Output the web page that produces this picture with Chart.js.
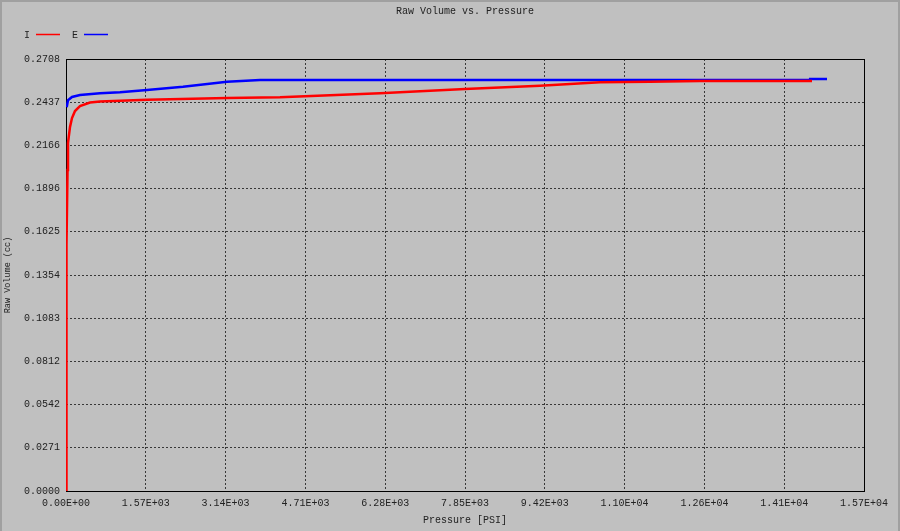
<!DOCTYPE html>
<html>
<head>
<meta charset="utf-8">
<script src="https://cdn.jsdelivr.net/npm/chart.js@4.4.1/dist/chart.umd.min.js"></script>
<style>
  html, body { margin: 0; padding: 0; background: #c0c0c0; }
  #wrap { width: 900px; height: 531px; position: relative; }
</style>
</head>
<body>
<div id="wrap"><canvas id="chart" width="900" height="531"></canvas></div>
<script>
// pressure [PSI] and raw volume [cc]
const pressureI = [0, 5, 14, 30, 39, 79, 118, 177, 275, 472, 669, 1062, 1594, 3168, 4210, 6178, 7850, 9325, 10506, 11490, 12473, 14677];
const volumeI   = [0, 0.0800, 0.1542, 0.2012, 0.2181, 0.2282, 0.2338, 0.2382, 0.2413, 0.2435, 0.2442, 0.2446, 0.2452, 0.2464, 0.2469, 0.2493, 0.2520, 0.2541, 0.2562, 0.2566, 0.2570, 0.2570];

const pressureE = [14, 39, 118, 275, 669, 1062, 1594, 2302, 3168, 3817, 4604, 14637, 14640, 14972];
const volumeE   = [0.2406, 0.2450, 0.2470, 0.2482, 0.2493, 0.2499, 0.2514, 0.2534, 0.2566, 0.2576, 0.2576, 0.2576, 0.2583, 0.2583];

const xTicks = [0, 1570, 3140, 4710, 6280, 7850, 9420, 10990, 12560, 14130, 15700];
const xTickLabels = ['0.00E+00', '1.57E+03', '3.14E+03', '4.71E+03', '6.28E+03', '7.85E+03',
  '9.42E+03', '1.10E+04', '1.26E+04', '1.41E+04', '1.57E+04'];
const yTicks = [0, 0.02708, 0.05416, 0.08124, 0.10832, 0.1354, 0.16248, 0.18956, 0.21664, 0.24372, 0.2708];
const yTickLabels = ['0.0000', '0.0271', '0.0542', '0.0812', '0.1083', '0.1354', '0.1625',
  '0.1896', '0.2166', '0.2437', '0.2708'];

const FONT = 'Liberation Mono, Courier New, monospace';
const TXT = '#222222';

const toPoints = (xs, ys) => xs.map((x, i) => ({ x: x, y: ys[i] }));

const frameAndText = {
  id: 'frameAndText',
  beforeDraw(chart) {
    const ctx = chart.ctx;
    ctx.save();
    ctx.fillStyle = '#c0c0c0';
    ctx.fillRect(0, 0, chart.width, chart.height);
    ctx.strokeStyle = '#a0a0a0';
    ctx.lineWidth = 2;
    ctx.strokeRect(1, 1, chart.width - 2, chart.height + 4);
    ctx.restore();
  },
  beforeDatasetsDraw(chart) {
    const { ctx, chartArea: a } = chart;
    ctx.save();
    ctx.strokeStyle = '#000';
    ctx.lineWidth = 1;
    ctx.strokeRect(a.left + 0.5, a.top + 0.5, a.right - a.left, a.bottom - a.top);
    ctx.restore();
  },
  afterDraw(chart) {
    const { ctx, chartArea: a } = chart;
    ctx.save();
    ctx.fillStyle = TXT;
    ctx.font = '10px ' + FONT;
    ctx.textBaseline = 'middle';
    ctx.textAlign = 'center';
    ctx.fillText('Raw Volume vs. Pressure', (a.left + a.right) / 2, 11);
    ctx.fillText('Pressure [PSI]', (a.left + a.right) / 2, 520);

    // legend: label first, then the line sample
    let lx = 24;
    chart.data.datasets.forEach(ds => {
      ctx.fillStyle = TXT;
      ctx.textAlign = 'left';
      ctx.fillText(ds.label, lx, 35);
      ctx.strokeStyle = ds.borderColor;
      ctx.lineWidth = 1.5;
      ctx.beginPath();
      ctx.moveTo(lx + 12, 34.5);
      ctx.lineTo(lx + 36, 34.5);
      ctx.stroke();
      lx += 48;
    });

    ctx.translate(8, (a.top + a.bottom) / 2);
    ctx.rotate(-Math.PI / 2);
    ctx.fillStyle = TXT;
    ctx.textAlign = 'center';
    ctx.font = '8.5px ' + FONT;
    ctx.fillText('Raw Volume (cc)', 0, 0);
    ctx.restore();
  }
};

new Chart(document.getElementById('chart'), {
  type: 'line',
  data: {
    datasets: [
      {
        label: 'I',
        data: toPoints(pressureI, volumeI),
        borderColor: '#ff0000',
        borderWidth: 2.5,
        pointRadius: 0,
        tension: 0
      },
      {
        label: 'E',
        data: toPoints(pressureE, volumeE),
        borderColor: '#0000ff',
        borderWidth: 2.5,
        pointRadius: 0,
        tension: 0
      }
    ]
  },
  options: {
    responsive: false,
    animation: false,
    layout: { padding: { top: 59, right: 36, left: 0, bottom: 0 } },
    plugins: {
      legend: { display: false },
      title: { display: false },
      tooltip: { enabled: false }
    },
    scales: {
      x: {
        type: 'linear',
        min: 0,
        max: 15700,
        afterBuildTicks: axis => { axis.ticks = xTicks.map(v => ({ value: v })); },
        afterFit: axis => { axis.height = 40; },
        ticks: {
          padding: 6,
          maxRotation: 0,
          autoSkip: false,
          color: TXT,
          font: { family: FONT, size: 10 },
          callback: (v, i) => xTickLabels[i]
        },
        grid: { color: '#383838', lineWidth: 1, drawTicks: false },
        border: { display: false, dash: [2, 2] }
      },
      y: {
        min: 0,
        max: 0.2708,
        afterBuildTicks: axis => { axis.ticks = yTicks.map(v => ({ value: v })); },
        afterFit: axis => { axis.width = 66; },
        ticks: {
          padding: 6,
          autoSkip: false,
          color: TXT,
          font: { family: FONT, size: 10 },
          callback: (v, i) => yTickLabels[i]
        },
        grid: { color: '#383838', lineWidth: 1, drawTicks: false },
        border: { display: false, dash: [2, 2] }
      }
    }
  },
  plugins: [frameAndText]
});
</script>
</body>
</html>
